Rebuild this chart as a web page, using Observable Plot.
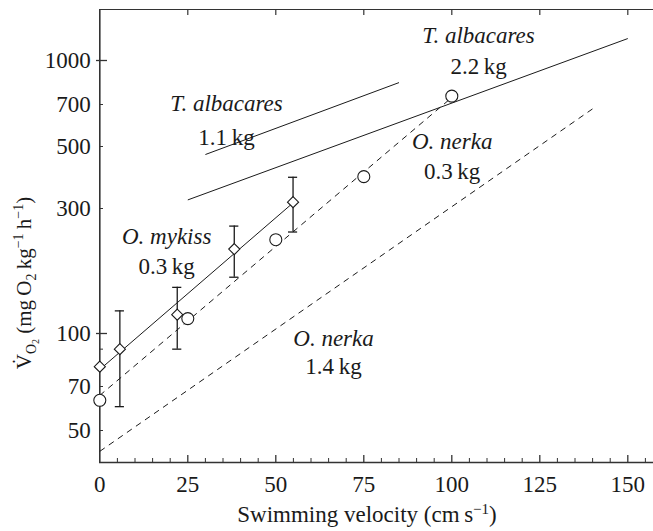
<!DOCTYPE html>
<html>
<head>
<meta charset="utf-8">
<script src="https://cdn.jsdelivr.net/npm/d3@7"></script>
<script src="https://cdn.jsdelivr.net/npm/@observablehq/plot@0.6"></script>
<style>
html, body { margin: 0; padding: 0; background: #fff; }
</style>
</head>
<body>
<div id="chart"></div>
<script>
// ---------- data ----------
// O. mykiss 0.3 kg : mean values (diamonds) with error bars
const mykissU   = [0, 5.7, 22.0, 38.2, 54.9];
const mykissVO2 = [80, 90, 118, 210, 316];
const mykissHi  = [null, 122, 150, 257, 388];
const mykissLo  = [null, 60, 90, 164, 244];

// O. nerka 0.3 kg : open circles
const nerkaU   = [0, 25, 50, 75, 100];
const nerkaVO2 = [63, 114, 228, 390, 749];

// regression lines (start / end)
const lineSpecies = ["O. mykiss", "O. nerka", "O. nerka", "T. albacares", "T. albacares"];
const lineMass    = ["0.3 kg", "0.3 kg", "1.4 kg", "1.1 kg", "2.2 kg"];
const lineU0 = [0, 0, 0, 30, 25];
const lineV0 = [78.5, 65.4, 42.6, 468, 322];
const lineU1 = [55, 100, 140, 85, 150];
const lineV1 = [315, 741, 676, 836, 1194];

// annotations
const annSpecies = ["T. albacares", "T. albacares", "O. nerka", "O. mykiss", "O. nerka"];
const annMass    = ["1.1\u2009kg", "2.2\u2009kg", "0.3\u2009kg", "0.3\u2009kg", "1.4\u2009kg"];
const annU       = [36.0, 107.6, 100.1, 19.0, 66.4];
const annNameV   = [706, 1224, 520, 235, 96.6];
const annMassV   = [537, 953, 407, 180, 80.1];

// axis ticks
const xTicks = [0, 25, 50, 75, 100, 125, 150];
const yTicks = [50, 70, 100, 300, 500, 700, 1000];
const yMajor = [100, 1000];
const yMinor = [50, 70, 90, 300, 500, 700];

// ---------- tables ----------
const mykiss = mykissU.map((u, i) => ({u, v: mykissVO2[i], hi: mykissHi[i], lo: mykissLo[i]}));
const mykissErr = mykiss.filter(d => d.hi != null);
const nerka = nerkaU.map((u, i) => ({u, v: nerkaVO2[i]}));
const lines = lineSpecies.map((s, i) => ({species: s, mass: lineMass[i], u0: lineU0[i], v0: lineV0[i], u1: lineU1[i], v1: lineV1[i]}));
const anns = annSpecies.map((s, i) => ({name: s, mass: annMass[i], u: annU[i], vn: annNameV[i], vm: annMassV[i]}));

// ---------- layout ----------
const W = 653, H = 531, mL = 99, mR = 0, mT = 9, mB = 69;
const fw = W - mL - mR, fh = H - mT - mB;
const ink = "#1a1a1a";
const axisInk = "#333";
const cap = 1.3;
const yBottom = 39.1, yTop = 1510;
const xMinorTicks = d3.range(5, 160, 5).filter(d => d % 25 !== 0);
const xMajorTicks = d3.range(25, 160, 25);

const chart = Plot.plot({
  width: W, height: H,
  marginLeft: mL, marginRight: mR, marginTop: mT, marginBottom: mB,
  style: {fontFamily: "Liberation Serif, Times New Roman, serif", fontSize: "23px", background: "#fff", color: ink},
  x: {type: "linear", domain: [0, 157.3], range: [99.3, 653], axis: null},
  y: {type: "log",
      domain: [yBottom, 50, 70, 100, 300, 500, 700, 1000, yTop],
      range:  [462, 430, 386, 333, 208, 146, 104, 60, 9], axis: null},
  marks: [
    // frame (left, bottom, top)
    Plot.ruleX([0], {stroke: axisInk, strokeWidth: 1.6}),
    Plot.ruleY([yBottom], {stroke: axisInk, strokeWidth: 1.6}),
    Plot.ruleY([yTop], {stroke: axisInk, strokeWidth: 1.2}),
    // inward ticks
    Plot.ruleX(xMinorTicks, {stroke: axisInk, strokeWidth: 1, insetTop: fh - 4}),
    Plot.ruleX(xMajorTicks, {stroke: axisInk, strokeWidth: 1.3, insetTop: fh - 7}),
    Plot.ruleX(xMajorTicks, {stroke: axisInk, strokeWidth: 1.2, insetBottom: fh - 6}),
    Plot.ruleY(yMajor, {stroke: axisInk, strokeWidth: 1.3, insetRight: fw - 8, insetLeft: -3}),
    Plot.ruleY(yMinor, {stroke: axisInk, strokeWidth: 1, insetRight: fw - 4}),
    // tick labels
    Plot.text(xTicks, {x: d => d, y: yBottom, text: d => String(d), lineAnchor: "top", dy: 13, fill: ink}),
    Plot.text(yTicks, {x: 0, y: d => d, text: d => String(d), textAnchor: "end", dx: -9, fill: ink}),
    // regression lines
    Plot.link(lines.filter(d => d.species !== "O. nerka"), {x1: "u0", y1: "v0", x2: "u1", y2: "v1", stroke: ink, strokeWidth: 1}),
    Plot.link(lines.filter(d => d.species === "O. nerka"), {x1: "u0", y1: "v0", x2: "u1", y2: "v1", stroke: ink, strokeWidth: 1, strokeDasharray: "6,5"}),
    // error bars
    Plot.ruleX(mykissErr, {x: "u", y1: "lo", y2: "hi", stroke: ink, strokeWidth: 1.3}),
    Plot.ruleY(mykissErr, {y: "hi", x1: d => d.u - cap, x2: d => d.u + cap, stroke: ink, strokeWidth: 1.3}),
    Plot.ruleY(mykissErr, {y: "lo", x1: d => d.u - cap, x2: d => d.u + cap, stroke: ink, strokeWidth: 1.3}),
    // points
    Plot.dot(nerka, {x: "u", y: "v", r: 6, stroke: ink, fill: "#fff", strokeWidth: 1.1}),
    Plot.dot(mykiss, {x: "u", y: "v", symbol: "diamond2", r: 5, stroke: ink, fill: "#fff", strokeWidth: 1.1}),
    // annotations
    Plot.text(anns, {x: "u", y: "vn", text: "name", fontStyle: "italic", fill: ink}),
    Plot.text(anns, {x: "u", y: "vm", text: "mass", fill: ink})
  ]
});

document.getElementById("chart").appendChild(chart);

// ---------- axis titles with sub/superscripts ----------
const svg = d3.select(chart);
function richText(parent, parts) {
  let prev = 0;
  parts.forEach(p => {
    const shift = p.shift || 0;
    const ts = parent.append("tspan").text(p.t);
    if (p.size) ts.style("font-size", p.size + "px");
    if (shift !== prev) ts.attr("dy", -(shift - prev));
    prev = shift;
  });
}
const xt = svg.append("text")
  .attr("x", 367).attr("y", 522)
  .attr("text-anchor", "middle")
  .style("font-size", "23px").attr("fill", ink);
richText(xt, [
  {t: "Swimming velocity (cm\u2009s"},
  {t: "\u22121", size: 15, shift: 8},
  {t: ")", shift: 0}
]);

const yt = svg.append("text")
  .attr("transform", "translate(31,283) rotate(-90)")
  .attr("text-anchor", "middle")
  .style("font-size", "21px").attr("fill", ink);
richText(yt, [
  {t: "V\u0307"},
  {t: "O", size: 14, shift: -5},
  {t: "2", size: 10, shift: -8},
  {t: " (mg\u2009O", shift: 0},
  {t: "2", size: 14, shift: -5},
  {t: "\u2009kg", shift: 0},
  {t: "\u22121", size: 14, shift: 8},
  {t: "\u2009h", shift: 0},
  {t: "\u22121", size: 14, shift: 8},
  {t: ")", shift: 0}
]);
</script>
</body>
</html>
